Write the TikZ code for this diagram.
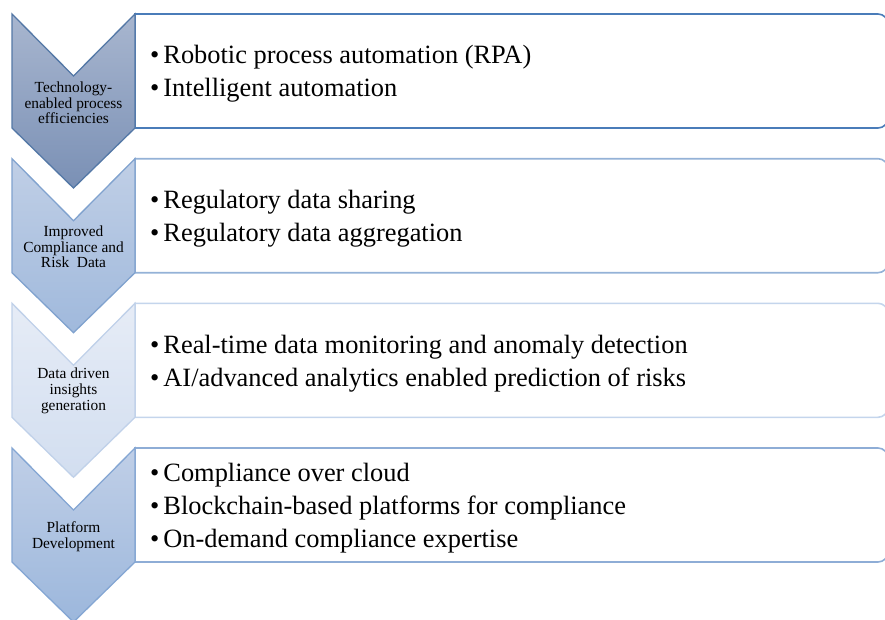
\documentclass[tikz,border=0pt]{standalone}
\usepackage{fontspec}
\setmainfont{Liberation Serif}
\definecolor{cA1}{RGB}{168,182,207}\definecolor{cA2}{RGB}{122,144,181}\definecolor{bA}{RGB}{84,120,166}
\definecolor{cB1}{RGB}{192,207,230}\definecolor{cB2}{RGB}{160,185,220}\definecolor{bB}{RGB}{128,162,206}
\definecolor{cC1}{RGB}{230,236,246}\definecolor{cC2}{RGB}{210,222,240}\definecolor{bC}{RGB}{192,209,233}
\definecolor{cD1}{RGB}{192,207,231}\definecolor{cD2}{RGB}{156,183,220}\definecolor{bD}{RGB}{132,166,211}
\definecolor{xA}{RGB}{74,124,185}\definecolor{xB}{RGB}{148,178,215}\definecolor{xC}{RGB}{196,213,236}\definecolor{xD}{RGB}{142,173,214}
\tikzset{
  chev/.style={line width=1.3pt, line join=miter},
  listbox/.style={line width=1.6pt, fill=white},
  chevlabel/.style={font=\fontsize{15.4}{15.7}\selectfont, align=center, text=black, inner sep=0pt},
  itemtext/.style={font=\fontsize{26.4}{33}\selectfont, align=left, anchor=west, inner sep=0pt, text=black},
}
\newcommand{\chevshape}[1]{(12,#1) -- (73.5,#1+62) -- (135,#1) -- (135,#1+114) -- (73.5,#1+174) -- (12,#1+114) -- cycle}
\newcommand{\boxshape}[1]{(135,#1) -- (878,#1) .. controls (883.5,#1) and (888,#1+4.5) .. (888,#1+10) -- (888,#1+104) .. controls (888,#1+109.5) and (883.5,#1+114) .. (878,#1+114) -- (135,#1+114) -- cycle}
\newcommand{\bl}{\textbullet\hspace{4pt}}
\begin{document}
\begin{tikzpicture}[x=1pt,y=-1pt]
\useasboundingbox (0,0) rectangle (885,619);
\clip (0,0) rectangle (885,619);
% row 1
\draw[listbox, draw=xA] \boxshape{14};
\draw[chev, draw=bA, top color=cA1, bottom color=cA2] \chevshape{14};
\node[chevlabel] (l1) at (73.5,103) {Technology-\\enabled process\\efficiencies};
\node[itemtext] (t1) at (150,74) {\bl Robotic process automation (RPA)\\\bl Intelligent automation};
% row 2
\draw[listbox, draw=xB] \boxshape{158.7};
\draw[chev, draw=bB, top color=cB1, bottom color=cB2] \chevshape{158.7};
\node[chevlabel] (l2) at (73.5,247) {Improved\\Compliance and\\Risk~~Data};
\node[itemtext] (t2) at (150,218.5) {\bl Regulatory data sharing\\\bl Regulatory data aggregation};
% row 3
\draw[listbox, draw=xC] \boxshape{303.3};
\draw[chev, draw=bC, top color=cC1, bottom color=cC2] \chevshape{303.3};
\node[chevlabel] (l3) at (73.5,391) {Data driven\\insights\\generation};
\node[itemtext] (t3) at (150,363.5) {\bl Real-time data monitoring and anomaly detection\\\bl AI/advanced analytics enabled prediction of risks};
% row 4
\draw[listbox, draw=xD] \boxshape{448};
\draw[chev, draw=bD, top color=cD1, bottom color=cD2] \chevshape{448};
\node[chevlabel] (l4) at (73.5,537) {Platform\\Development};
\node[itemtext] (t4) at (150,508) {\bl Compliance over cloud\\\bl Blockchain-based platforms for compliance\\\bl On-demand compliance expertise};
\end{tikzpicture}
\end{document}
